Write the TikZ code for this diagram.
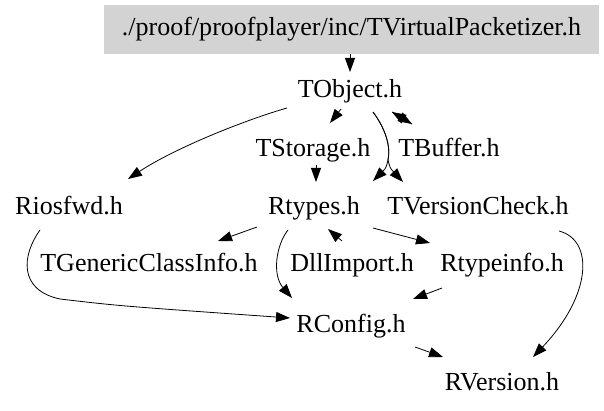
\documentclass[tikz,border=0pt]{standalone}
\usepackage{fontspec}
\setmainfont{Liberation Serif}
\usetikzlibrary{arrows.meta}
\definecolor{boxgray}{HTML}{D3D3D3}
\begin{document}
\begin{tikzpicture}[x=1pt,y=-1pt,
  lbl/.style={anchor=base,inner sep=0pt,font=\fontsize{26}{30}\selectfont},
  edge/.style={draw=black,line width=0.8pt,-{Triangle[length=14pt,width=10pt]}}]
\useasboundingbox (0,0) rectangle (604,411);
\node[fill=boxgray,minimum width=495pt,minimum height=49pt,inner sep=0pt,
      font=\fontsize{26}{30}\selectfont,text height=18pt,text depth=6pt] (box) at (351.5,29.5)
      {./proof/proofplayer/inc/TVirtualPacketizer.h};
\node[lbl] (tobject) at (350,98) {TObject.h};
\node[lbl] (tstorage) at (313,157) {TStorage.h};
\node[lbl] (tbuffer) at (449,157) {TBuffer.h};
\node[lbl] (riosfwd) at (69,215) {Riosfwd.h};
\node[lbl] (rtypes) at (314,215) {Rtypes.h};
\node[lbl] (tversion) at (478,215) {TVersionCheck.h};
\node[lbl] (tgeneric) at (149,272) {TGenericClassInfo.h};
\node[lbl] (dllimport) at (352,272) {DllImport.h};
\node[lbl] (rtypeinfo) at (502,272) {Rtypeinfo.h};
\node[lbl] (rconfig) at (351,332) {RConfig.h};
\node[lbl] (rversion) at (502,390) {RVersion.h};

% box -> TObject
\draw[edge] (box.south -| tobject.base) -- ([shift={(0,-26)}]tobject.base);
% TObject -> TStorage
\draw[edge] ([shift={(-9,11)}]tobject.base) -- ([shift={(17,-34)}]tstorage.base);
% TObject -> Riosfwd
\draw[edge] ([shift={(-63,10)}]tobject.base) .. controls (245,120) and (175,148) .. ([shift={(59,-36)}]riosfwd.base);
% TObject <-> TBuffer
\draw[edge] ([shift={(42,14)}]tobject.base) -- ([shift={(-37,-33)}]tbuffer.base);
\draw[edge] ([shift={(-37,-33)}]tbuffer.base) -- ([shift={(42,14)}]tobject.base);
% TObject -> Rtypes, TVersionCheck
\draw[edge] ([shift={(23,14)}]tobject.base) .. controls (385,128) and (391,146) .. (388,160)
   .. controls (386,168) .. ([shift={(59,-34)}]rtypes.base);
\draw[edge] ([shift={(23,14)}]tobject.base) .. controls (385,128) and (391,146) .. (388,160)
   .. controls (390,168) .. ([shift={(-75,-33)}]tversion.base);
% TStorage -> Rtypes
\draw[edge] ([shift={(3,8)}]tstorage.base) -- ([shift={(2,-33)}]rtypes.base);
% Rtypes -> TGenericClassInfo
\draw[edge] ([shift={(-57,12)}]rtypes.base) -- ([shift={(69,-31)}]tgeneric.base);
% Rtypes -> RConfig
\draw[edge] ([shift={(-26,15)}]rtypes.base) .. controls (276,245) and (272,275) .. ([shift={(-59,-34)}]rconfig.base);
% Riosfwd -> RConfig
\draw[edge] ([shift={(-29,15)}]riosfwd.base) .. controls (22,255) and (18,290) .. (60,299)
   .. controls (120,306) .. ([shift={(-61,-14)}]rconfig.base);
% DllImport -> Rtypes
\draw[edge] ([shift={(-10,-31)}]dllimport.base) -- ([shift={(14,14)}]rtypes.base);
% Rtypes -> Rtypeinfo
\draw[edge] ([shift={(59,13)}]rtypes.base) -- ([shift={(-72,-29)}]rtypeinfo.base);
% Rtypeinfo -> RConfig
\draw[edge] ([shift={(-60,16)}]rtypeinfo.base) -- ([shift={(62,-33)}]rconfig.base);
% RConfig -> RVersion
\draw[edge] ([shift={(64,15)}]rconfig.base) -- ([shift={(-59,-33)}]rversion.base);
% TVersionCheck -> RVersion
\draw[edge] ([shift={(81,16)}]tversion.base) .. controls (594,240) and (592,295) .. ([shift={(31,-33)}]rversion.base);
\end{tikzpicture}
\end{document}
